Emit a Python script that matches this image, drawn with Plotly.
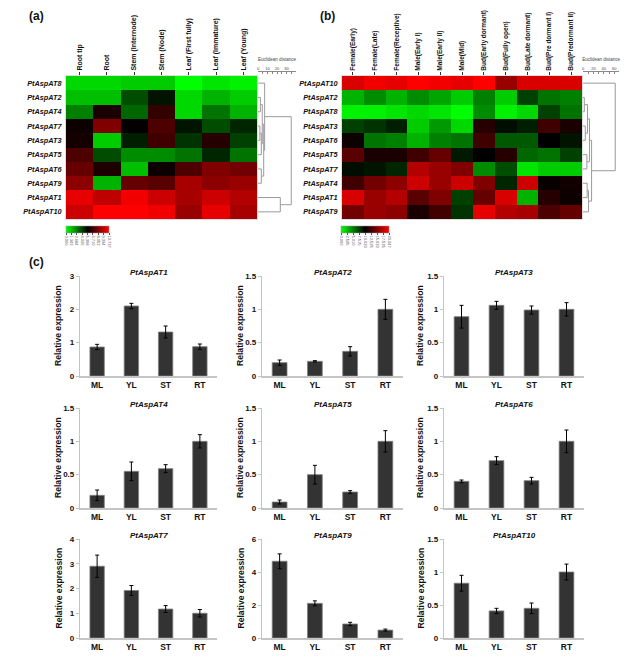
import plotly.graph_objects as go

# the page body keeps an 8px margin, so the figure is drawn 8px smaller
OFF = 8
W, H = 640 - OFF, 657 - OFF

# ---------------- heatmap (a): tissues ----------------
tissues = ["Root tip", "Root", "Stem (Internode)", "Stem (Node)",
           "Leaf (First fully)", "Leaf (Immature)", "Leaf (Young)"]
genes_a = ["PtAspAT8", "PtAspAT2", "PtAspAT4", "PtAspAT7", "PtAspAT3",
           "PtAspAT5", "PtAspAT6", "PtAspAT9", "PtAspAT1", "PtAspAT10"]
expr_a = [
    [-0.85, -0.85, -0.80, -0.80, -1.00, -0.90, -0.95],
    [-0.75, -0.75, -0.30, -0.08, -0.85, -0.70, -0.80],
    [-0.50, 0.10, -0.40, 0.20, -0.85, -0.45, -0.70],
    [0.05, 0.50, 0.02, 0.30, -0.08, -0.30, -0.15],
    [0.08, -0.80, -0.12, 0.25, -0.20, 0.15, -0.25],
    [0.30, -0.30, -0.55, -0.55, -0.45, -0.15, -0.45],
    [0.40, 0.12, -0.75, 0.05, 0.30, 0.50, 0.45],
    [0.55, -0.70, 0.40, 0.35, 0.65, 0.55, 0.60],
    [0.90, 0.75, 0.95, 0.80, 0.65, 0.80, 0.70],
    [0.80, 1.00, 1.00, 0.95, 0.60, 0.90, 0.65],
]
# merges: (child, child, height) ; ints = leaf rows, "mN" = earlier merge
tree_a = [(1, 2, 2.5), (3, 4, 2.0), ("m1", 5, 3.5), ("m0", "m2", 4.5),
          (6, 7, 3.5), ("m3", "m4", 6.0), (0, "m5", 7.0), (8, 9, 23.5),
          ("m6", "m7", 35.0)]
cbar_a = ["0.000", "1.342", "2.684", "4.026", "5.368", "6.710", "8.052", "9.394", "10.737"]

# ---------------- heatmap (b): flowers and buds ----------------
stages = ["Female(Early)", "Female(Late)", "Female(Receptive)", "Male(Early I)",
          "Male(Early II)", "Male(Mid)", "Bud(Early dormant)", "Bud(Fully open)",
          "Bud(Late dormant)", "Bud(Pre dormant I)", "Bud(Predormant II)"]
genes_b = ["PtAspAT10", "PtAspAT2", "PtAspAT8", "PtAspAT3", "PtAspAT6",
           "PtAspAT5", "PtAspAT7", "PtAspAT4", "PtAspAT1", "PtAspAT9"]
expr_b = [
    [0.85, 0.95, 0.90, 1.00, 0.95, 0.90, 1.00, 0.60, 0.85, 0.85, 0.85],
    [-0.70, -0.55, -0.70, -0.55, -0.65, -0.80, -0.50, -0.80, -0.25, -0.45, -0.50],
    [-0.95, -0.95, -0.90, -0.85, -0.90, -1.00, -0.55, -0.95, -0.85, -0.25, -0.45],
    [-0.25, -0.20, -0.12, -0.80, -0.60, -0.85, 0.15, -0.05, -0.12, 0.25, 0.10],
    [0.05, -0.45, -0.50, -0.70, -0.50, -0.45, 0.25, -0.35, -0.35, 0.00, -0.08],
    [0.35, 0.10, 0.10, 0.25, 0.40, -0.10, 0.00, 0.15, -0.40, -0.45, -0.25],
    [-0.05, -0.08, -0.15, 0.70, 0.60, 0.50, -0.55, -0.30, -0.90, -0.80, -0.80],
    [0.25, 0.45, 0.55, 0.80, 0.60, 0.80, 0.50, -0.15, 0.80, 0.03, 0.07],
    [0.85, 0.60, 0.70, 0.35, 0.50, -0.25, 0.40, 0.85, -0.70, 0.15, 0.05],
    [0.45, 0.60, 0.55, 0.10, 0.25, -0.20, 0.90, 0.70, 0.65, 0.30, 0.40],
]
tree_b = [(1, 2, 2.5), (3, 4, 4.4), ("m0", "m1", 8.7), (5, 6, 7.5),
          ("m2", "m3", 12.5), (7, 8, 8.0), ("m5", 9, 10.5), ("m4", "m6", 16.5),
          (0, "m7", 62.0)]
cbar_b = ["0.000", "2.505", "5.010", "7.515", "10.020", "12.525", "15.030", "17.535", "20.047"]

# ---------------- bar charts (c) ----------------
tissue_codes = ["ML", "YL", "ST", "RT"]
bar_genes = ["PtAspAT1", "PtAspAT2", "PtAspAT3", "PtAspAT4", "PtAspAT5",
             "PtAspAT6", "PtAspAT7", "PtAspAT9", "PtAspAT10"]
rel_expr = [
    [0.87, 2.10, 1.32, 0.88],
    [0.20, 0.22, 0.37, 1.00],
    [0.89, 1.06, 0.99, 1.00],
    [0.19, 0.55, 0.59, 1.00],
    [0.09, 0.50, 0.24, 1.00],
    [0.40, 0.71, 0.41, 1.00],
    [2.90, 1.92, 1.17, 1.00],
    [4.65, 2.10, 0.85, 0.48],
    [0.83, 0.41, 0.45, 1.00],
]
rel_err = [
    [0.08, 0.08, 0.18, 0.08],
    [0.04, 0.01, 0.07, 0.15],
    [0.17, 0.06, 0.06, 0.10],
    [0.08, 0.14, 0.06, 0.10],
    [0.03, 0.14, 0.02, 0.16],
    [0.02, 0.06, 0.05, 0.17],
    [0.45, 0.20, 0.14, 0.15],
    [0.45, 0.15, 0.10, 0.06],
    [0.12, 0.04, 0.08, 0.12],
]
y_max = [3, 1.5, 1.5, 1.5, 1.5, 1.5, 4, 6, 1.5]
y_ticks = [[0, 1, 2, 3], [0, 0.5, 1, 1.5], [0, 0.5, 1, 1.5], [0, 0.5, 1, 1.5],
           [0, 0.5, 1, 1.5], [0, 0.5, 1, 1.5], [0, 1, 2, 3, 4], [0, 2, 4, 6],
           [0, 0.5, 1, 1.5]]


def fx(p):
    return (p - OFF) / W


def fy(p):
    return 1 - (p - OFF) / H


def dendro_lines(tree, n_leaves):
    pos = {i: (0.0, float(i)) for i in range(n_leaves)}
    xs, ys = [], []
    for k, (a, b, h) in enumerate(tree):
        ax_, ay = pos[a]
        bx, by = pos[b]
        xs += [ax_, h, h, bx, None]
        ys += [ay, ay, by, by, None]
        pos["m%d" % k] = (h, (ay + by) / 2)
    return xs, ys


RG = [[0, "#00ff00"], [0.5, "#000000"], [1, "#ff0000"]]
BASE = "Liberation Sans, Arial, sans-serif"

fig = go.Figure()


def add_heat(z, cols, rows, xa, ya, cb_x, cb_len, cb_text):
    fig.add_trace(go.Heatmap(
        z=z, x=cols, y=rows, xaxis=xa, yaxis=ya, zmin=-1, zmax=1,
        colorscale=RG, xgap=0, ygap=0,
        colorbar=dict(orientation="h", x=fx(cb_x), xanchor="left",
                      y=fy(226), yanchor="top", len=cb_len / W, lenmode="fraction",
                      thickness=7, thicknessmode="pixels", xpad=0, ypad=0,
                      outlinewidth=0.5, outlinecolor="#999",
                      tickvals=[-1 + 2 * i / (len(cb_text) - 1) for i in range(len(cb_text))],
                      ticktext=cb_text, tickangle=90, ticks="outside", ticklen=2,
                      tickfont=dict(size=4, color="#555", family=BASE)),
    ))


add_heat(expr_a, tissues, genes_a, "x", "y", 66, 43, cbar_a)
add_heat(expr_b, stages, genes_b, "x3", "y3", 341, 48, cbar_b)

for tree, n, xa, ya in [(tree_a, 10, "x2", "y2"), (tree_b, 10, "x4", "y4")]:
    dx, dy = dendro_lines(tree, n)
    fig.add_trace(go.Scatter(x=dx, y=dy, xaxis=xa, yaxis=ya, mode="lines",
                             line=dict(color="#9a9a9a", width=1), showlegend=False,
                             hoverinfo="skip"))

heat_top, heat_bot = 76, 219
row_lab = dict(size=7.3, family=BASE, weight="bold", style="italic", color="#111")
col_lab_a = dict(size=7, family=BASE, weight="bold", color="#111")
col_lab_b = dict(size=6.5, family=BASE, weight="bold", color="#111")
layout = dict(
    width=W, height=H, margin=dict(l=0, r=0, t=0, b=0, autoexpand=False),
    paper_bgcolor="white", plot_bgcolor="white", showlegend=False,
    xaxis=dict(domain=[fx(66), fx(257)], side="top", tickangle=-90, tickfont=col_lab_a,
               ticks="outside", ticklen=3, tickcolor="#333", showline=True, mirror=True,
               linecolor="#dddddd", fixedrange=True),
    yaxis=dict(domain=[fy(heat_bot), fy(heat_top)], autorange="reversed", tickfont=row_lab,
               ticks="", showline=True, mirror=True, linecolor="#dddddd", ticklabelstandoff=2),
    xaxis2=dict(domain=[fx(258), fx(258 + 40 * 0.95)], range=[0, 40], anchor="free",
                position=fy(71), side="top", showline=True, linecolor="#888", linewidth=0.7,
                ticks="inside", ticklen=2, tickcolor="#888", tickvals=[0, 10, 20, 30],
                minor=dict(ticks="inside", ticklen=2, dtick=5, tickcolor="#888"),
                tickfont=dict(size=4, family=BASE, color="#444"), showgrid=False,
                title=dict(text="Euclidean distance", font=dict(size=4.5, family=BASE, color="#444"),
                           standoff=2), zeroline=False),
    yaxis2=dict(domain=[fy(heat_bot), fy(heat_top)], range=[9.5, -0.5], visible=False),
    xaxis3=dict(domain=[fx(342), fx(582)], side="top", tickangle=-90, tickfont=col_lab_b,
                ticks="outside", ticklen=3, tickcolor="#333", showline=True, mirror=True,
                linecolor="#dddddd", anchor="y3"),
    yaxis3=dict(domain=[fy(heat_bot), fy(heat_top)], autorange="reversed", tickfont=row_lab,
                ticks="", showline=True, mirror=True, linecolor="#dddddd", anchor="x3",
                ticklabelstandoff=2),
    xaxis4=dict(domain=[fx(583), fx(583 + 70 * 0.52)], range=[0, 70], anchor="free",
                position=fy(71), side="top", showline=True, linecolor="#888", linewidth=0.7,
                ticks="inside", ticklen=2, tickcolor="#888", tickvals=[0, 20, 40, 60],
                minor=dict(ticks="inside", ticklen=2, dtick=10, tickcolor="#888"),
                tickfont=dict(size=4, family=BASE, color="#444"), showgrid=False,
                title=dict(text="Euclidean distance", font=dict(size=4.5, family=BASE, color="#444"),
                           standoff=2), zeroline=False),
    yaxis4=dict(domain=[fy(heat_bot), fy(heat_top)], range=[9.5, -0.5], visible=False, anchor="x4"),
)

col_px = [(80, 217), (262, 403), (444, 584)]
row_px = [(276, 376), (408, 508), (539, 638)]
ylab_x = [58, 240, 420]
annotations = []
bold = dict(family=BASE, weight="bold", color="#111")
for i, gene in enumerate(bar_genes):
    r, c = divmod(i, 3)
    n = i + 5
    xa, ya = "x%d" % n, "y%d" % n
    fig.add_trace(go.Bar(
        x=tissue_codes, y=rel_expr[i], xaxis=xa, yaxis=ya, width=0.42,
        marker=dict(color="#333333", line=dict(color="#808080", width=0.8)),
        error_y=dict(type="data", array=rel_err[i], color="#000", thickness=1, width=2),
        showlegend=False))
    x0, x1 = col_px[c]
    y0, y1 = row_px[r]
    layout["xaxis%d" % n] = dict(domain=[fx(x0), fx(x1)], anchor=ya, range=[-0.5, 3.5],
                                 showline=True, linecolor="#c4c4c4", linewidth=1.5, ticks="",
                                 tickfont=dict(size=8.5, **bold), fixedrange=True)
    layout["yaxis%d" % n] = dict(domain=[fy(y1), fy(y0)], anchor=xa, range=[0, y_max[i]],
                                 tickvals=y_ticks[i], showline=True, linecolor="#c4c4c4",
                                 linewidth=1.2, ticks="outside", ticklen=3, tickcolor="#c4c4c4",
                                 showgrid=False, zeroline=False, tickfont=dict(size=8, **bold))
    annotations.append(dict(text=gene, x=fx((x0 + x1) / 2), y=fy(y0 - 4), xref="paper",
                            yref="paper", showarrow=False, xanchor="center", yanchor="middle",
                            font=dict(size=8, family=BASE, weight="bold", style="italic",
                                      color="#111")))
    annotations.append(dict(text="Relative expression", x=fx(ylab_x[c]), y=fy((y0 + y1) / 2),
                            xref="paper", yref="paper", showarrow=False, textangle=-90,
                            xanchor="center", yanchor="middle",
                            font=dict(size=8.6, **bold)))

for lab, px, py in [("(a)", 36, 16), ("(b)", 327, 16), ("(c)", 36, 262)]:
    annotations.append(dict(text=lab, x=fx(px), y=fy(py), xref="paper", yref="paper",
                            showarrow=False, xanchor="center", yanchor="middle",
                            font=dict(size=12, **bold)))

layout["annotations"] = annotations
fig.update_layout(**layout)
fig.write_html("out.html")
